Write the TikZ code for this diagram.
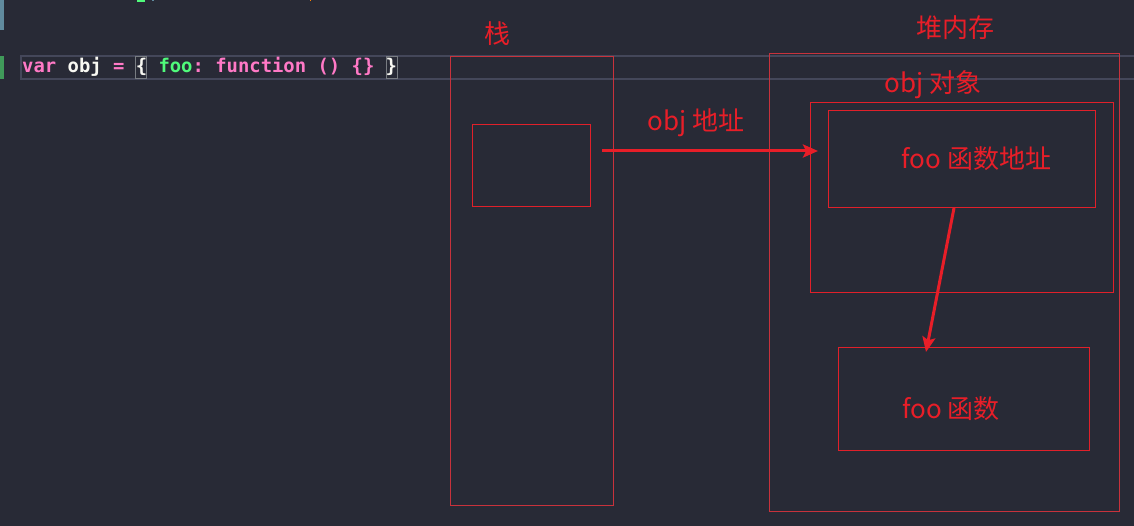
\documentclass[tikz,border=0pt]{standalone}
\usepackage{fontspec}
\usetikzlibrary{arrows.meta}
\newfontfamily\cjk{Noto Sans CJK SC}
\newfontfamily\codefont{DejaVu Sans Mono Bold}
\definecolor{bg}{RGB}{40,42,54}
\definecolor{hlgray}{RGB}{68,71,90}
\definecolor{matchgray}{RGB}{120,124,130}
\definecolor{drpink}{RGB}{255,121,198}
\definecolor{drgreen}{RGB}{80,250,123}
\definecolor{drwhite}{RGB}{248,248,242}
\definecolor{lred}{RGB}{232,30,40}
\definecolor{bred}{RGB}{225,32,42}
\definecolor{ored}{RGB}{200,50,60}
\definecolor{gutblue}{RGB}{96,138,158}
\definecolor{gutgreen}{RGB}{64,154,90}
\tikzset{
  box/.style={draw=bred, line width=1pt},
  outerbox/.style={draw=ored, line width=0.85pt},
  lbl/.style={text=lred, font=\cjk\fontsize{26}{26}\selectfont, inner sep=0pt, anchor=base},
  ptr/.style={draw=lred, line width=3pt, -{Stealth[length=15pt,width=13pt,inset=3pt]}},
}
\begin{document}
\begin{tikzpicture}[x=1pt,y=-1pt]
\fill[bg] (0,0) rectangle (1134,526);
\useasboundingbox (0,0) rectangle (1134,526);
% gutter marks
\fill[gutblue] (0,0) rectangle (3.5,30);
\fill[gutgreen] (0,56) rectangle (3.5,79);
% cut-off previous line fragments
\fill[drgreen] (137,0) rectangle (145,2);
\fill[gutblue] (152,0) rectangle (153.5,1.5);
\fill[orange] (309.5,0) rectangle (311,1.5);
% current line highlight
\draw[hlgray, line width=1.6pt] (21,56) rectangle (1140,79);
% bracket match boxes
\draw[matchgray, line width=1pt] (135.6,57) rectangle (146.6,78.5);
\draw[matchgray, line width=1pt] (386,57) rectangle (397,78.5);
% code text
\node[anchor=base west, inner sep=0pt, font=\codefont\fontsize{18.87}{20}\selectfont] (code) at (22,73) {\frenchspacing\textcolor{drpink}{var} \textcolor{drwhite}{obj} \textcolor{drpink}{=} \textcolor{drwhite}{\{} \textcolor{drgreen}{foo}\textcolor{drpink}{:} \textcolor{drpink}{function} \textcolor{drpink}{()} \textcolor{drpink}{\{\}} \textcolor{drwhite}{\}}};
% boxes
\node[outerbox, minimum width=163pt, minimum height=449pt, inner sep=0pt] (stack) at (531.5,280.5) {};
\node[box, minimum width=118pt, minimum height=82pt, inner sep=0pt] (cell) at (531,166) {};
\node[outerbox, minimum width=350pt, minimum height=458pt, inner sep=0pt] (heap) at (944,282) {};
\node[box, minimum width=303pt, minimum height=190pt, inner sep=0pt] (objbox) at (961.5,198) {};
\node[box, minimum width=267pt, minimum height=97pt, inner sep=0pt] (addr) at (961.5,159.5) {};
\node[box, minimum width=251pt, minimum height=103pt, inner sep=0pt] (func) at (963.5,398.5) {};
% labels
\node[lbl] (stacklbl) at (497,44) {栈};
\node[lbl] (heaplbl) at (955,38) {堆内存};
\node[lbl] (objlbl) at (933,93) {obj 对象};
\node[lbl] (ptrlbl) at (696,131) {obj 地址};
\node[lbl] (addrlbl) at (976.5,169) {foo 函数地址};
\node[lbl] (funclbl) at (951,418) {foo 函数};
% connectors
\coordinate (p1s) at (602,151);
\coordinate (p1e) at (818,151);
\coordinate (p2s) at (954,208);
\coordinate (p2e) at (926,352);
\draw[ptr] (p1s) -- (p1e);
\draw[ptr] (p2s) -- (p2e);
\end{tikzpicture}
\end{document}
